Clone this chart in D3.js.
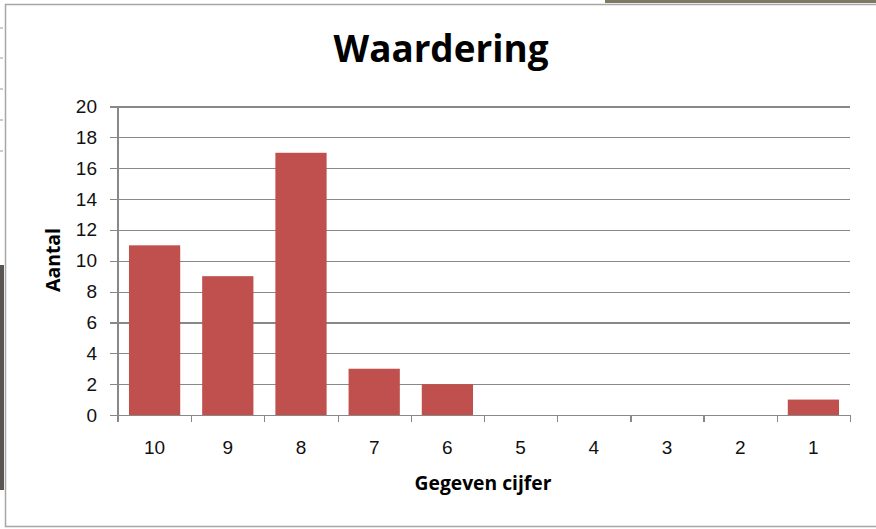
<!DOCTYPE html>
<html lang="nl">
<head>
  <meta charset="utf-8">
  <script src="https://cdn.jsdelivr.net/npm/d3@7"></script>
  <title>Waardering</title>
  <style>
    html, body {
      margin: 0;
      padding: 0;
      background: #fff;
    }

    svg {
      display: block;
      font-family: 'Open Sans', sans-serif;
    }

    .axis path,
    .axis line,
    .grid line {
      stroke: #888;
      stroke-width: 1.2px;
      shape-rendering: crispEdges;
    }

    .grid path {
      stroke: none;
    }

    .axis text {
      font-size: 19px;
      fill: #111;
    }
  </style>
</head>
<body>
  <div id="chart"></div>
  <script>
    // Values.
    var categories = ['10', '9', '8', '7', '6', '5', '4', '3', '2', '1'];
    var counts = [11, 9, 17, 3, 2, 0, 0, 0, 0, 1];
    var yTicks = [0, 2, 4, 6, 8, 10, 12, 14, 16, 18, 20];

    var title = 'Waardering',
      yTitle = 'Aantal',
      xTitle = 'Gegeven cijfer';

    var width = 876,
      height = 529;

    var margin = { top: 106.5, right: 26, bottom: 114, left: 118 };
    var plotW = width - margin.left - margin.right,
      plotH = height - margin.top - margin.bottom;

    var svg = d3.select('#chart')
      .append('svg')
      .attr('width', width)
      .attr('height', height);

    // Bits of the screenshot background showing round the chart frame.
    svg.append('rect')
      .attr('x', 0).attr('y', 265).attr('width', 4).attr('height', 225)
      .attr('fill', '#5a5550');
    svg.append('rect')
      .attr('x', 605).attr('y', 0).attr('width', 271).attr('height', 3)
      .attr('fill', '#7d7a64');
    [28, 58, 89, 120, 151].forEach(function(yy) {
      svg.append('line')
        .attr('x1', 0).attr('x2', 3).attr('y1', yy).attr('y2', yy)
        .attr('stroke', '#999');
    });

    // Chart frame.
    svg.append('rect')
      .attr('x', 5.5).attr('y', 4.5)
      .attr('width', width + 10).attr('height', 522)
      .attr('fill', '#fff')
      .attr('stroke', '#a6a6a6')
      .attr('stroke-width', 1.5);

    var g = svg.append('g')
      .attr('transform', 'translate(' + margin.left + ',' + margin.top + ')');

    var x = d3.scaleBand()
      .domain(categories)
      .range([0, plotW])
      .paddingInner(0.3)
      .paddingOuter(0.15);

    var y = d3.scaleLinear()
      .domain([0, 20])
      .range([plotH, 0]);

    // Boundaries between categories, for the x tick marks.
    var xEdges = d3.scaleLinear()
      .domain([0, categories.length])
      .range([0, plotW]);

    // Gridlines.
    g.append('g')
      .attr('class', 'grid')
      .call(d3.axisLeft(y).tickValues(yTicks).tickSize(-plotW).tickFormat(''));

    // Bars.
    g.append('g')
      .selectAll('rect')
      .data(counts)
      .enter()
      .append('rect')
      .attr('x', function(d, i) { return x(categories[i]); })
      .attr('y', function(d) { return y(d); })
      .attr('width', x.bandwidth())
      .attr('height', function(d) { return y(0) - y(d); })
      .attr('fill', '#c0504d');

    // Y axis.
    var yAxis = g.append('g')
      .attr('class', 'axis')
      .call(d3.axisLeft(y).tickValues(yTicks).tickSize(8).tickPadding(13));
    yAxis.select('.domain')
      .attr('d', 'M0,' + (plotH + 7) + 'V0');

    // X axis: tick marks at category edges, labels at category centres.
    g.append('g')
      .attr('class', 'axis')
      .attr('transform', 'translate(0,' + plotH + ')')
      .call(d3.axisBottom(xEdges).tickValues(d3.range(categories.length + 1))
        .tickSize(7).tickSizeOuter(0).tickFormat(''));

    var xLabels = g.append('g')
      .attr('class', 'axis')
      .attr('transform', 'translate(0,' + plotH + ')')
      .call(d3.axisBottom(x).tickSize(0).tickPadding(26));
    xLabels.select('.domain').remove();

    // Titles, sized to the widths.
    function fit(sel, target) {
      var size = +sel.attr('font-size');
      var len = sel.node().getComputedTextLength();
      sel.attr('font-size', size * target / len);
    }

    var t = svg.append('text')
      .attr('x', 441)
      .attr('y', 62)
      .attr('text-anchor', 'middle')
      .attr('font-weight', 'bold')
      .attr('font-size', 36)
      .attr('fill', '#000')
      .text(title);
    fit(t, 215);

    var yt = svg.append('text')
      .attr('transform', 'translate(60,260) rotate(-90)')
      .attr('text-anchor', 'middle')
      .attr('font-weight', 'bold')
      .attr('font-size', 19)
      .attr('fill', '#000')
      .text(yTitle);
    fit(yt, 64);

    var xt = svg.append('text')
      .attr('x', 483)
      .attr('y', 490)
      .attr('text-anchor', 'middle')
      .attr('font-weight', 'bold')
      .attr('font-size', 19)
      .attr('fill', '#000')
      .text(xTitle);
    fit(xt, 137);
  </script>
</body>
</html>
